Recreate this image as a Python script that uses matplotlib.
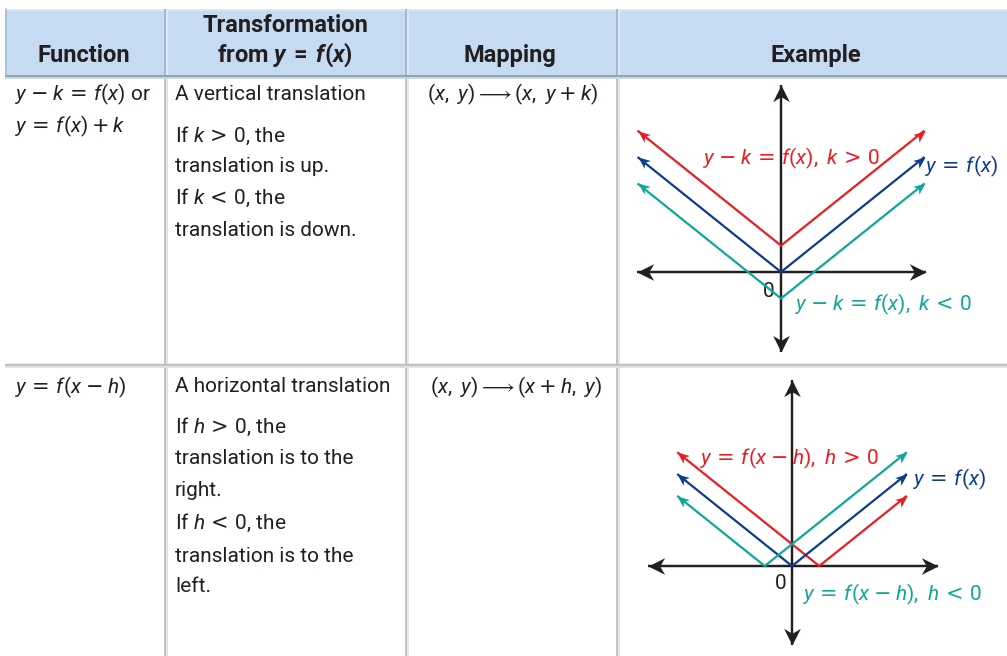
import matplotlib
matplotlib.use("Agg")
import matplotlib.pyplot as plt
import numpy as np
from matplotlib.path import Path
from matplotlib.markers import MarkerStyle
from matplotlib.transforms import Affine2D
from matplotlib.patches import Rectangle

plt.rcParams.update({
    "font.family": ["Roboto", "DejaVu Sans"],
    "mathtext.fontset": "custom",
    "mathtext.rm": "Roboto",
    "mathtext.it": "Roboto:italic",
    "mathtext.bf": "Roboto:bold",
    "mathtext.sf": "DejaVu Sans",
    "mathtext.fallback": "stixsans",
})
try:
    plt.rcParams["mathtext.bfit"] = "Roboto:italic:bold"
except KeyError:
    pass

# operator snippets (wider math operators)
EQ = r"\,\mathsf{=}\,"
GT = r"\,\mathsf{>}\,"
LT = r"\,\mathsf{<}\,"
MI = r"\;\mathsf{-}\;"
PL = r"\:\mathsf{+}\:"

# ---------------- data ----------------
header_labels = ["Function", "Transformation", "Mapping", "Example"]
header_sub = r"from $\mathbfit{y}\:\mathbf{=}\:\mathbfit{f}\mathbf{(}\mathbfit{x}\mathbf{)}$"

row1_function = [rf"$y{MI}k{EQ}f(x)$ or", rf"$y{EQ}f(x){PL}k$"]
row1_transform = ["A vertical translation", rf"If $k{GT}0$, the", "translation is up.",
                  rf"If $k{LT}0$, the", "translation is down."]
row1_mapping = r"$(x,\ y) \longrightarrow (x,\ y" + PL + r"k)$"

row2_function = [rf"$y{EQ}f(x{MI}h)$"]
row2_transform = ["A horizontal translation", rf"If $h{GT}0$, the", "translation is to the",
                  "right.", rf"If $h{LT}0$, the", "translation is to the", "left."]
row2_mapping = r"$(x,\ y) \longrightarrow (x" + PL + r"h,\ y)$"

# graph 1: vertical translation
g1_x = [-5, 0, 5]
g1_base = [5, 0, 5]
g1_up = [6.15, 1.15, 6.15]
g1_down = [3.85, -1.15, 3.85]
g1_xaxis = [-5.02, 5.05]
g1_yaxis = [-3.48, 8.13]
g1_labels = [rf"$y{MI}k{EQ}f(x),\ k{GT}0$", rf"$y{EQ}f(x)$", rf"$y{MI}k{EQ}f(x),\ k{LT}0$"]

# graph 2: horizontal translation
g2_x_base = [-4, 0, 4]
g2_base = [4, 0, 4]
g2_x_right = [-4, 0.95, 4]
g2_right = [4.95, 0, 3.05]
g2_x_left = [-4, -0.95, 4]
g2_left = [3.05, 0, 4.95]
g2_xaxis = [-5.02, 5.09]
g2_yaxis = [-3.43, 8.09]
g2_labels = [rf"$y{EQ}f(x{MI}h),\ h{GT}0$", rf"$y{EQ}f(x)$", rf"$y{EQ}f(x{MI}h),\ h{LT}0$"]

# ---------------- style ----------------
W, H = 1007, 656
RED, BLUE, TEAL, INK = "#ec1c24", "#0b3d8c", "#0fa898", "#231f20"
HEADER_BG = "#c6dbf1"
PX, PY = 28.7, 23.0  # pixels per data unit in the example graphs

fig = plt.figure(figsize=(W / 100, H / 100), dpi=100, facecolor="white")
tab = fig.add_axes([0, 0, 1, 1])
tab.set_xlim(0, W)
tab.set_ylim(H, 0)
tab.axis("off")

def pt(px):
    return px * 0.72

# header band
tab.add_patch(Rectangle((5, 9), W - 5, 66, facecolor=HEADER_BG, edgecolor="none", zorder=1))
tab.plot([5, W], [75.5, 75.5], color="#8ea4ba", lw=pt(2), zorder=2, solid_capstyle="butt")
tab.plot([5, W], [77.5, 77.5], color="#cdd6df", lw=pt(2), zorder=2, solid_capstyle="butt")
tab.plot([5, W], [10, 10], color="#d8e6f5", lw=pt(2), zorder=2, solid_capstyle="butt")
tab.plot([5.5, 5.5], [9, 75], color="#a9bdd2", lw=pt(1.5), zorder=2)

col_sep = [165, 406, 617]
for x in col_sep:
    tab.plot([x, x], [9, 75], color="#a3b8cf", lw=pt(2), zorder=2, solid_capstyle="butt")
    tab.plot([x + 2, x + 2], [9, 75], color="#dce9f7", lw=pt(2), zorder=2, solid_capstyle="butt")
    tab.plot([x, x], [79, H], color="#c4c4c4", lw=pt(2), zorder=2, solid_capstyle="butt")
    tab.plot([x + 2, x + 2], [79, H], color="#e6e6e6", lw=pt(2), zorder=2, solid_capstyle="butt")

# row separator
tab.plot([5, W], [364.5, 364.5], color="#c2c2c2", lw=pt(2.5), zorder=3, solid_capstyle="butt")
tab.plot([5, W], [367, 367], color="#e3e3e3", lw=pt(2), zorder=3, solid_capstyle="butt")

# header texts
HFS = 17
for x, y, s in [(83.5, 62, header_labels[0]), (285, 32, header_labels[1]),
                (285, 62, header_sub), (510, 62, header_labels[2]),
                (816, 62, header_labels[3])]:
    tab.text(x, y, s, ha="center", va="baseline", fontsize=HFS,
             fontweight="bold", color=INK, zorder=5)

# body texts
BFS = 15
def put_lines(x, ys, lines):
    for y, s in zip(ys, lines):
        tab.text(x, y + 7.5, s, ha="left", va="baseline", fontsize=BFS, color=INK, zorder=5)

put_lines(15, [93, 125], row1_function)
put_lines(175, [93, 134, 164, 196, 228], row1_transform)
put_lines(427, [93], [row1_mapping])
put_lines(15, [386], row2_function)
put_lines(175, [385, 425, 457, 489, 521, 554, 585], row2_transform)
put_lines(430, [386], [row2_mapping])

# ---------------- example graphs ----------------
AX_HEAD = Path([(0, 0), (-1, 0.5), (-0.7, 0), (-1, -0.5), (0, 0)], closed=True)
LN_HEAD = Path([(0, 0), (-1, 0.42), (-0.72, 0), (-1, -0.42), (0, 0)], closed=True)

def graph_axes(ox, oy):
    x0, x1, y0, y1 = -6.0, 7.5, -4.2, 9.0
    left = ox + x0 * PX
    right = ox + x1 * PX
    top = oy - y1 * PY
    bottom = oy - y0 * PY
    ax = fig.add_axes([left / W, (H - bottom) / H, (right - left) / W, (bottom - top) / H])
    ax.set_xlim(x0, x1)
    ax.set_ylim(y0, y1)
    ax.axis("off")
    ax.patch.set_alpha(0)
    return ax

def arrow_line(ax, xs, ys, color, lw, ms, head, z):
    ax.plot(xs, ys, color=color, lw=lw, solid_capstyle="butt", solid_joinstyle="miter", zorder=z)
    ends = [((xs[1], ys[1]), (xs[0], ys[0])), ((xs[-2], ys[-2]), (xs[-1], ys[-1]))]
    for a, b in ends:
        p0 = ax.transData.transform(a)
        p1 = ax.transData.transform(b)
        ang = np.degrees(np.arctan2(p1[1] - p0[1], p1[0] - p0[0]))
        m = MarkerStyle(head, transform=Affine2D().rotate_deg(ang))
        ax.plot([b[0]], [b[1]], marker=m, ms=ms, color=color, mew=0, ls="none", zorder=z + 0.5)

def axes_cross(ax, xr, yr):
    arrow_line(ax, xr, [0, 0], INK, 1.75, 24, AX_HEAD, 2)
    arrow_line(ax, [0, 0], yr, INK, 1.75, 24, AX_HEAD, 2)

GFS = 15
# graph 1
ax1 = graph_axes(781, 272)
axes_cross(ax1, g1_xaxis, g1_yaxis)
arrow_line(ax1, g1_x, g1_up, RED, 1.6, 17, LN_HEAD, 3)
arrow_line(ax1, g1_x, g1_base, BLUE, 1.6, 17, LN_HEAD, 3)
arrow_line(ax1, g1_x, g1_down, TEAL, 1.6, 17, LN_HEAD, 3)
tab.text(703, 157 + 7, g1_labels[0], color=RED, fontsize=GFS, va="baseline", zorder=6)
tab.text(925, 165 + 7, g1_labels[1], color=BLUE, fontsize=GFS, va="baseline", zorder=6)
tab.text(795, 303 + 7, g1_labels[2], color=TEAL, fontsize=GFS, va="baseline", zorder=6)
tab.text(769, 290 + 7, "0", color=INK, fontsize=GFS, ha="center", va="baseline", zorder=6)

# graph 2
ax2 = graph_axes(792, 566)
axes_cross(ax2, g2_xaxis, g2_yaxis)
arrow_line(ax2, g2_x_right, g2_right, RED, 1.6, 17, LN_HEAD, 3)
arrow_line(ax2, g2_x_base, g2_base, BLUE, 1.6, 17, LN_HEAD, 3)
arrow_line(ax2, g2_x_left, g2_left, TEAL, 1.6, 17, LN_HEAD, 3)
tab.text(700, 457 + 7, g2_labels[0], color=RED, fontsize=GFS, va="baseline", zorder=6)
tab.text(913, 478 + 7, g2_labels[1], color=BLUE, fontsize=GFS, va="baseline", zorder=6)
tab.text(803, 593 + 7, g2_labels[2], color=TEAL, fontsize=GFS, va="baseline", zorder=6)
tab.text(780.5, 582 + 7, "0", color=INK, fontsize=GFS, ha="center", va="baseline", zorder=6)

fig.savefig("out.png", dpi=100, facecolor="white")
